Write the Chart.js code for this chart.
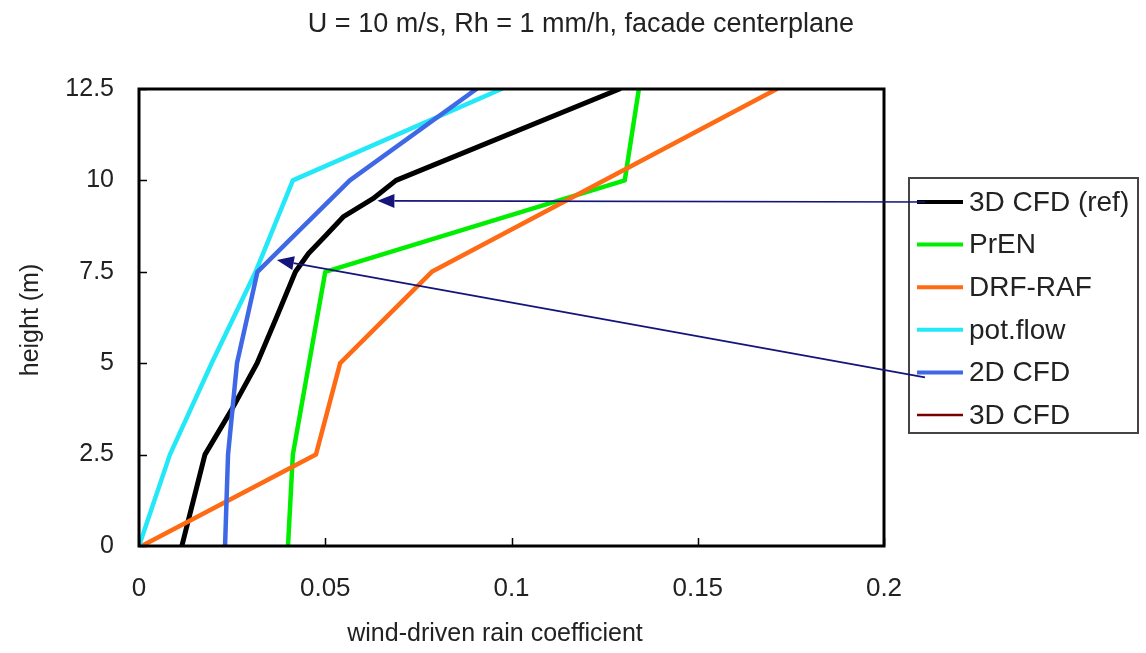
<!DOCTYPE html>
<html>
<head>
<meta charset="utf-8">
<script src="https://cdn.jsdelivr.net/npm/chart.js@4/dist/chart.umd.min.js"></script>
<style>
  html, body { margin: 0; padding: 0; background: #fff; }
  #c { display: block; }
</style>
</head>
<body>
<canvas id="c" width="1146" height="653"></canvas>
<script>
// ---------- data ----------
const chartTitle = "U = 10 m/s, Rh = 1 mm/h, facade centerplane";
const xAxisTitle = "wind-driven rain coefficient";
const yAxisTitle = "height (m)";

const seriesNames = ["3D CFD (ref)", "PrEN", "DRF-RAF", "pot.flow", "2D CFD", "3D CFD"];

const refHeights = [0, 1.25, 2.5, 3.75, 5, 6.25, 7.5, 8.0, 8.5, 9.0, 9.5, 10, 12.5];
const refValues  = [0.0115, 0.0146, 0.0177, 0.025, 0.0317, 0.0369, 0.042, 0.0455, 0.0502, 0.0548, 0.0628, 0.069, 0.129];

const prenHeights = [0, 2.5, 7.5, 10, 12.5];
const prenValues  = [0.040, 0.0413, 0.050, 0.1304, 0.1342];

const drfHeights = [0, 2.5, 5, 7.5, 12.5];
const drfValues  = [0.0007, 0.0475, 0.054, 0.0786, 0.1712];

const potHeights = [0, 2.5, 5, 7.5, 10, 12.5];
const potValues  = [0, 0.0083, 0.0195, 0.0313, 0.0413, 0.0973];

const cfd2dHeights = [0, 2.5, 5, 7.5, 10, 12.5];
const cfd2dValues  = [0.0231, 0.0239, 0.0263, 0.0318, 0.0566, 0.0906];

const cfd3dHeights = [];
const cfd3dValues  = [];

const xTickValues = [0, 0.05, 0.1, 0.15, 0.2];
const xTickLabels = ["0", "0.05", "0.1", "0.15", "0.2"];
const yTickValues = [0, 2.5, 5, 7.5, 10, 12.5];
const yTickLabels = ["0", "2.5", "5", "7.5", "10", "12.5"];

// annotation arrows: legend entry index -> point on the curve (data coords)
const arrowFrom = [0, 4];
const arrowTipX = [0.064, 0.037];
const arrowTipY = [9.44, 7.82];

// ---------- styling ----------
const FONT = "'Liberation Sans', Arial, sans-serif";
const colors = ["#000000", "#00ee00", "#ff6a14", "#22e8f8", "#3f68e6", "#7a0000"];
const widths = [5, 4.5, 4.5, 4.5, 4.5, 2.5];

function pts(hs, vs) { return hs.map((h, i) => ({ x: vs[i], y: h })); }
const seriesData = [
  pts(refHeights, refValues),
  pts(prenHeights, prenValues),
  pts(drfHeights, drfValues),
  pts(potHeights, potValues),
  pts(cfd2dHeights, cfd2dValues),
  pts(cfd3dHeights, cfd3dValues)
];

const datasets = seriesNames.map((n, i) => ({
  label: n,
  data: seriesData[i],
  borderColor: colors[i],
  backgroundColor: colors[i],
  borderWidth: widths[i],
  pointRadius: 0,
  showLine: true,
  tension: 0,
  fill: false,
  order: seriesNames.length - i,
  borderJoinStyle: 'round',
  borderCapStyle: 'round'
}));

const decor = {
  id: 'decor',
  beforeDraw(chart) {
    const ctx = chart.ctx;
    ctx.save();
    ctx.fillStyle = '#fff';
    ctx.fillRect(0, 0, chart.width, chart.height);
    ctx.restore();
  },
  afterDatasetsDraw(chart) {
    const { ctx, chartArea: a, scales: { x, y } } = chart;
    ctx.save();
    // frame
    ctx.strokeStyle = '#000';
    ctx.lineWidth = 3;
    ctx.strokeRect(a.left, a.top, a.right - a.left, a.bottom - a.top);
    // inward tick marks
    ctx.lineWidth = 1.5;
    ctx.beginPath();
    xTickValues.forEach(v => {
      const px = Math.round(x.getPixelForValue(v)) + 0.5;
      ctx.moveTo(px, a.bottom); ctx.lineTo(px, a.bottom - 8);
    });
    yTickValues.forEach(v => {
      const py = Math.round(y.getPixelForValue(v)) + 0.5;
      ctx.moveTo(a.left, py); ctx.lineTo(a.left + 8, py);
    });
    ctx.stroke();

    // title
    ctx.fillStyle = '#222';
    ctx.textAlign = 'center';
    ctx.textBaseline = 'middle';
    ctx.font = '27px ' + FONT;
    ctx.fillText(chartTitle, 581, 25);
    // axis titles
    ctx.font = '25px ' + FONT;
    ctx.fillText(xAxisTitle, 495, 634);
    ctx.save();
    ctx.translate(31, 320);
    ctx.rotate(-Math.PI / 2);
    ctx.fillText(yAxisTitle, 0, 0);
    ctx.restore();

    // legend
    const lx = 909, ly = 178, lw = 229, lh = 255;
    ctx.fillStyle = '#fff';
    ctx.fillRect(lx, ly, lw, lh);
    ctx.strokeStyle = '#444';
    ctx.lineWidth = 2;
    ctx.strokeRect(lx, ly, lw, lh);
    const rowY = i => 202 + i * 42.6;
    ctx.font = '28px ' + FONT;
    ctx.textAlign = 'left';
    seriesNames.forEach((n, i) => {
      const yy = rowY(i);
      ctx.strokeStyle = colors[i];
      ctx.lineWidth = i === 5 ? 2.5 : 4;
      ctx.beginPath();
      ctx.moveTo(917, yy); ctx.lineTo(963, yy);
      ctx.stroke();
      ctx.fillStyle = '#222';
      ctx.fillText(n, 969, yy + 1);
    });

    // arrows
    ctx.strokeStyle = '#14147a';
    ctx.fillStyle = '#14147a';
    arrowFrom.forEach((li, k) => {
      const sx = 925, sy = rowY(li) + (li === 4 ? 5 : 0);
      const tx = x.getPixelForValue(arrowTipX[k]);
      const ty = y.getPixelForValue(arrowTipY[k]);
      const ang = Math.atan2(ty - sy, tx - sx);
      const L = 17, W = 7;
      const bx = tx - L * Math.cos(ang), by = ty - L * Math.sin(ang);
      ctx.lineWidth = 1.6;
      ctx.beginPath();
      ctx.moveTo(sx, sy); ctx.lineTo(bx, by);
      ctx.stroke();
      ctx.beginPath();
      ctx.moveTo(tx, ty);
      ctx.lineTo(bx + W * Math.sin(ang), by - W * Math.cos(ang));
      ctx.lineTo(bx - W * Math.sin(ang), by + W * Math.cos(ang));
      ctx.closePath();
      ctx.fill();
    });
    ctx.restore();
  }
};

new Chart(document.getElementById('c'), {
  type: 'scatter',
  data: { datasets },
  options: {
    responsive: false,
    animation: false,
    devicePixelRatio: 1,
    layout: { padding: { top: 89, right: 262, left: 0, bottom: 0 } },
    plugins: { legend: { display: false }, title: { display: false }, tooltip: { enabled: false } },
    scales: {
      x: {
        type: 'linear', min: 0, max: 0.2,
        afterFit(s) { s.height = 107; },
        afterBuildTicks(s) { s.ticks = xTickValues.map(v => ({ value: v })); },
        grid: { display: false, drawTicks: false },
        border: { display: false },
        ticks: {
          padding: 27,
          color: '#222',
          font: { family: FONT, size: 26 },
          callback: (v) => { const i = xTickValues.indexOf(v); return i >= 0 ? xTickLabels[i] : ''; },
          maxRotation: 0, autoSkip: false
        }
      },
      y: {
        type: 'linear', min: 0, max: 12.5,
        afterFit(s) { s.width = 139; },
        afterBuildTicks(s) { s.ticks = yTickValues.map(v => ({ value: v })); },
        grid: { display: false, drawTicks: false },
        border: { display: false },
        ticks: {
          padding: 25,
          color: '#222',
          font: { family: FONT, size: 25 },
          callback: (v) => { const i = yTickValues.indexOf(v); return i >= 0 ? yTickLabels[i] : ''; },
          autoSkip: false
        }
      }
    }
  },
  plugins: [decor]
});
</script>
</body>
</html>
